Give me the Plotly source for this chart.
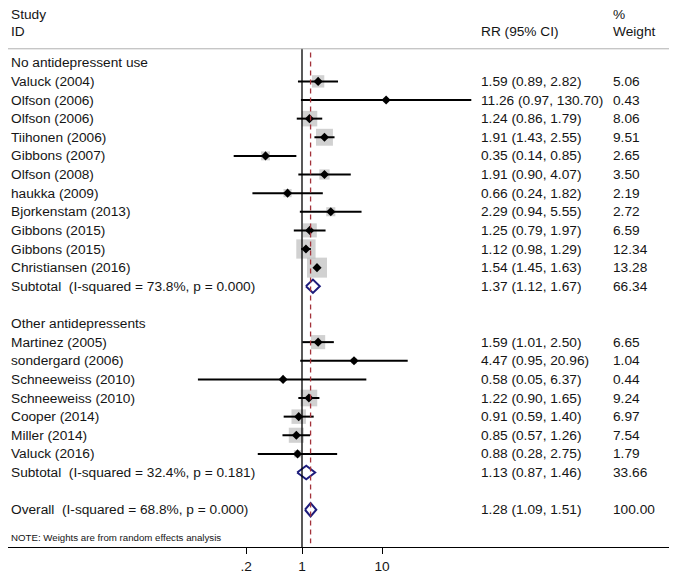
import math
import plotly.graph_objects as go

# ---- data -------------------------------------------------------------
group1_label = "No antidepressent use"
group1_studies = ["Valuck (2004)", "Olfson (2006)", "Olfson (2006)", "Tiihonen (2006)",
                  "Gibbons (2007)", "Olfson (2008)", "haukka (2009)", "Bjorkenstam (2013)",
                  "Gibbons (2015)", "Gibbons (2015)", "Christiansen (2016)"]
group1_rr = [1.59, 11.26, 1.24, 1.91, 0.35, 1.91, 0.66, 2.29, 1.25, 1.12, 1.54]
group1_lo = [0.89, 0.97, 0.86, 1.43, 0.14, 0.90, 0.24, 0.94, 0.79, 0.98, 1.45]
group1_hi = [2.82, 130.70, 1.79, 2.55, 0.85, 4.07, 1.82, 5.55, 1.97, 1.29, 1.63]
group1_weight = [5.06, 0.43, 8.06, 9.51, 2.65, 3.50, 2.19, 2.72, 6.59, 12.34, 13.28]
group1_subtotal = ["Subtotal\u00a0\u00a0(I-squared = 73.8%, p = 0.000)", 1.37, 1.12, 1.67, 66.34]

group2_label = "Other antidepressents"
group2_studies = ["Martinez (2005)", "sondergard (2006)", "Schneeweiss (2010)",
                  "Schneeweiss (2010)", "Cooper (2014)", "Miller (2014)", "Valuck (2016)"]
group2_rr = [1.59, 4.47, 0.58, 1.22, 0.91, 0.85, 0.88]
group2_lo = [1.01, 0.95, 0.05, 0.90, 0.59, 0.57, 0.28]
group2_hi = [2.50, 20.96, 6.37, 1.65, 1.40, 1.26, 2.75]
group2_weight = [6.65, 1.04, 0.44, 9.24, 6.97, 7.54, 1.79]
group2_subtotal = ["Subtotal\u00a0\u00a0(I-squared = 32.4%, p = 0.181)", 1.13, 0.87, 1.46, 33.66]

overall = ["Overall\u00a0\u00a0(I-squared = 68.8%, p = 0.000)", 1.28, 1.09, 1.51, 100.00]
note = "NOTE: Weights are from random effects analysis"

tick_vals = [0.2, 1, 10]
tick_text = [".2", "1", "10"]

# ---- row layout -------------------------------------------------------
# the page puts the figure 8px in from the corner, so it is 8px smaller
W, H = 669, 566
PLOT_H = 541
FONT = "Liberation Sans, Arial, sans-serif"
TXT = "#151515"
FS = 13.7
X_LABEL, X_RR, X_W = 1 / W, 471 / W, 603 / W

study_rows = []      # (row, name, rr, lo, hi, w)
pooled_rows = []     # (row, name, rr, lo, hi, w)
headings = []        # (row, text)
r = 0
for label, names, rr, lo, hi, w, sub in [
        (group1_label, group1_studies, group1_rr, group1_lo, group1_hi, group1_weight, group1_subtotal),
        (group2_label, group2_studies, group2_rr, group2_lo, group2_hi, group2_weight, group2_subtotal)]:
    headings.append((r, label))
    r += 1
    for i in range(len(names)):
        study_rows.append((r, names[i], rr[i], lo[i], hi[i], w[i]))
        r += 1
    pooled_rows.append((r, *sub))
    r += 2
pooled_rows.append((r, *overall))
note_row = r + 1.5
axis_row = r + 2.0

fig = go.Figure()

# weight squares
max_w = max(s[5] for s in study_rows)
fig.add_trace(go.Scatter(
    x=[s[2] for s in study_rows], y=[s[0] for s in study_rows], mode="markers",
    marker=dict(symbol="square", color="#bebebe",
                size=[20 * math.sqrt(s[5] / max_w) for s in study_rows], line=dict(width=0)),
    hoverinfo="skip", showlegend=False))

# confidence intervals
ci_x, ci_y = [], []
for s in study_rows:
    ci_x += [s[3], s[4], None]
    ci_y += [s[0], s[0], None]
fig.add_trace(go.Scatter(x=ci_x, y=ci_y, mode="lines", line=dict(color="black", width=2),
                         hoverinfo="skip", showlegend=False))

# point estimates
fig.add_trace(go.Scatter(
    x=[s[2] for s in study_rows], y=[s[0] for s in study_rows], mode="markers",
    marker=dict(symbol="diamond", color="black", size=7), hoverinfo="skip", showlegend=False))

# pooled diamonds
for p in pooled_rows:
    row, _, est, lo, hi, _ = p
    fig.add_trace(go.Scatter(
        x=[lo, est, hi, est, lo], y=[row, row - 0.36, row, row + 0.36, row],
        mode="lines", fill="toself", fillcolor="white",
        line=dict(color="#1c1c7c", width=2), hoverinfo="skip", showlegend=False))

# reference lines
fig.add_shape(type="line", xref="x", yref="y", x0=1, x1=1, y0=-0.75, y1=axis_row,
              line=dict(color="black", width=1.3))
fig.add_shape(type="line", xref="x", yref="y", x0=overall[1], x1=overall[1], y0=-0.55, y1=axis_row - 0.2,
              line=dict(color="#a3323a", width=1.3, dash="5px,4px"))
fig.add_shape(type="line", xref="paper", yref="y", x0=0, x1=1, y0=-0.75, y1=-0.75,
              line=dict(color="#b0b0b0", width=1))

# text columns
def txt(x, y, s, size=FS, yref="y"):
    fig.add_annotation(x=x, y=y, xref="paper", yref=yref, text=s, showarrow=False,
                       xanchor="left", yanchor="middle", font=dict(family=FONT, size=size, color=TXT))

y_top, y_sub = 1 - 7 / PLOT_H, 1 - 24 / PLOT_H
txt(X_LABEL, y_top, "Study", yref="paper")
txt(X_LABEL, y_sub, "ID", yref="paper")
txt(X_RR, y_sub, "RR (95% CI)", yref="paper")
txt(X_W, y_top, "%", yref="paper")
txt(X_W, y_sub, "Weight", yref="paper")
for row, label in headings:
    txt(X_LABEL, row, label)
for row, name, est, lo, hi, w in study_rows + pooled_rows:
    txt(X_LABEL, row, name)
    txt(X_RR, row, f"{est:.2f} ({lo:.2f}, {hi:.2f})")
    txt(X_W, row, f"{w:.2f}")
txt(X_LABEL, note_row, note, size=9.7)

fig.update_layout(
    width=W, height=H, margin=dict(l=0, r=0, t=0, b=H - PLOT_H),
    plot_bgcolor="white", paper_bgcolor="white",
    xaxis=dict(type="log", range=[-294 / 80, (W - 294) / 80], domain=[0, 1],
               showgrid=False, zeroline=False,
               showline=True, linecolor="black", linewidth=1.3,
               tickmode="array", tickvals=tick_vals, ticktext=tick_text,
               ticks="outside", ticklen=6, tickcolor="black",
               tickfont=dict(family=FONT, size=FS, color=TXT)),
    yaxis=dict(range=[axis_row, -2.94], visible=False, showgrid=False, zeroline=False),
)

fig.write_html("out.html")
